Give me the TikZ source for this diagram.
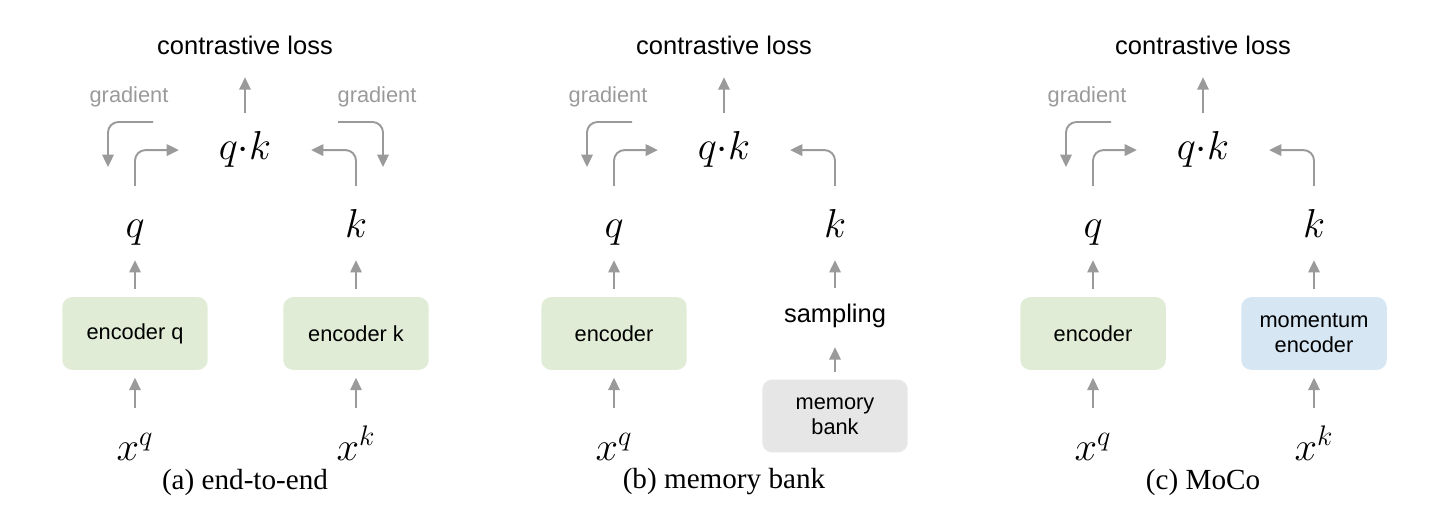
\RequirePackage{fix-cm}
\documentclass[tikz,border=0pt]{standalone}
\usepackage{fontspec}
\setmainfont{Liberation Serif}
\setsansfont{Liberation Sans}
\usetikzlibrary{arrows.meta}
\definecolor{arrowgray}{HTML}{9A9A9A}
\definecolor{encgreen}{HTML}{E0ECD5}
\definecolor{momblue}{HTML}{D6E6F3}
\definecolor{bankgray}{HTML}{E6E6E6}
\tikzset{
  arr/.style={draw=arrowgray, line width=1.1pt, -{Triangle[width=6.5pt,length=7pt]}},
  elbow/.style={arr, rounded corners=6pt},
  lossname/.style={font=\sffamily\fontsize{14.5}{17}\selectfont, inner sep=0pt, anchor=base, text depth=12.5pt},
  samp/.style={font=\sffamily\fontsize{14.5}{17}\selectfont, inner sep=0pt, anchor=base, text height=19.3pt, text depth=14.2pt},
  gradname/.style={font=\sffamily\fontsize{12.4}{14}\selectfont, text=arrowgray, inner sep=0pt},
  sym/.style={font=\fontsize{23}{28}\selectfont, inner sep=0pt, anchor=base, text height=28.9pt, text depth=13pt},
  prod/.style={font=\fontsize{23}{28}\selectfont, inner sep=0pt, anchor=base, text height=26.6pt, text depth=15.3pt, minimum width=74.8pt},
  insym/.style={font=\fontsize{23}{28}\selectfont, inner sep=0pt, anchor=base, text height=29.5pt},
  block/.style={rounded corners=5.7pt, minimum width=82.8pt, minimum height=41.4pt, outer sep=4.5pt, align=center, font=\sffamily\fontsize{12.4}{14.2}\selectfont},
  subcap/.style={font=\fontsize{16.6}{20}\selectfont, inner sep=0pt}
}
\begin{document}
\begin{tikzpicture}[x=0.02cm,y=-0.02cm]
  \useasboundingbox (0,0) rectangle (1440,513);
  % parts shared by the three panels
  \foreach \p/\ox/\enc/\lbl in {a/0/encoder q/(a) end-to-end, b/479/encoder/(b) memory bank, c/958/encoder/(c) MoCo} {
    \begin{scope}[shift={(\ox,0)}]
      \node[lossname] (loss\p) at (245,55) {contrastive loss};
      \node[prod] (qk\p) at (245,160) {$q{\cdot}k$};
      \node[sym] (q\p) at (135,237) {$q$};
      \node[block,fill=encgreen] (encq\p) at (135,333.5) {\enc};
      \node[insym] (xq\p) at (135,460) {$x^q$};
      \node[subcap] (cap\p) at (245,482) {\lbl};
      \node[gradname] (gradq\p) at (129,97) {gradient};
      \coordinate (gqs\p) at (153,122);
      \coordinate (gqe\p) at (108,167);
      \draw[arr] (qk\p.north) -- (loss\p.south);
      \draw[elbow] (q\p.north) |- (qk\p.west);
      \draw[elbow] (gqs\p) -| (gqe\p);
      \draw[arr] (encq\p) -- (q\p);
      \draw[arr] (xq\p) -- (encq\p);
    \end{scope}
  }
  % (a) end-to-end
  \node[sym] (ka) at (356,237) {$k$};
  \node[block,fill=encgreen] (encka) at (356,333.5) {encoder k};
  \node[insym] (xka) at (356,460) {$x^k$};
  \node[gradname] (gradka) at (377,97) {gradient};
  \coordinate (gks) at (338,122);
  \coordinate (gke) at (383,167);
  \draw[elbow] (ka.north) |- (qka.east);
  \draw[elbow] (gks) -| (gke);
  \draw[arr] (encka) -- (ka);
  \draw[arr] (xka) -- (encka);
  % (b) memory bank
  \node[sym] (kb) at (835,237) {$k$};
  \node[samp] (sampb) at (835,322) {sampling};
  \node[block,fill=bankgray] (bankb) at (835,416) {memory\\bank};
  \draw[elbow] (kb.north) |- (qkb.east);
  \draw[arr] (sampb) -- (kb);
  \draw[arr] (bankb) -- (sampb);
  % (c) MoCo
  \node[sym] (kc) at (1314,237) {$k$};
  \node[block,fill=momblue] (momc) at (1314,333.5) {momentum\\encoder};
  \node[insym] (xkc) at (1314,460) {$x^k$};
  \draw[elbow] (kc.north) |- (qkc.east);
  \draw[arr] (momc) -- (kc);
  \draw[arr] (xkc) -- (momc);
\end{tikzpicture}
\end{document}
